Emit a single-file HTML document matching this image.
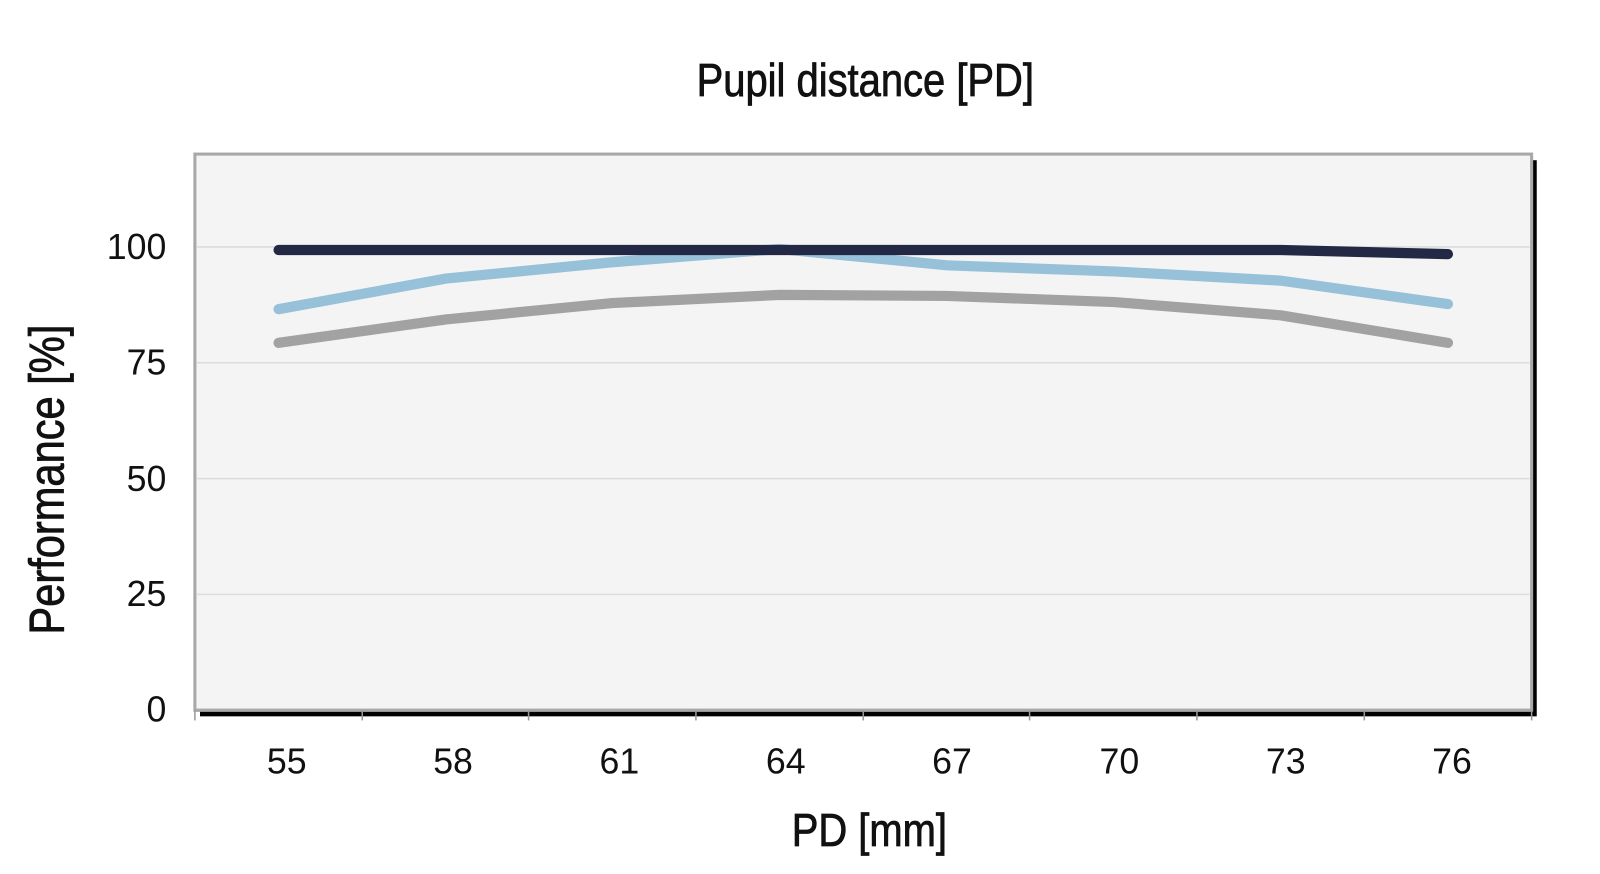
<!DOCTYPE html>
<html><head><meta charset="utf-8"><style>
html,body{margin:0;padding:0;background:#fff;}
svg{display:block}
text{font-family:"Liberation Sans",sans-serif;fill:#111;}
.t{font-size:35px;}
.h{stroke:#111;stroke-width:0.8;}
</style></head><body>
<svg width="1600" height="874" viewBox="0 0 1568 856.5" preserveAspectRatio="none">
<rect x="0" y="0" width="1568" height="856.5" fill="#fff"/>
<rect x="196" y="157" width="1310" height="545" fill="#000"/>
<rect x="191" y="151" width="1310" height="545" fill="#f4f4f4" stroke="#a8a8a8" stroke-width="3"/>
<g stroke="#dcdcdc" stroke-width="1.5">
<line x1="193" y1="242" x2="1499" y2="242"/>
<line x1="193" y1="355.5" x2="1499" y2="355.5"/>
<line x1="193" y1="469" x2="1499" y2="469"/>
<line x1="193" y1="582.5" x2="1499" y2="582.5"/>
</g>
<line x1="191" y1="696" x2="1501" y2="696" stroke="#a8a8a8" stroke-width="3"/>
<g stroke="#999" stroke-width="1.5">
<line x1="191" y1="696" x2="191" y2="706"/><line x1="355" y1="696" x2="355" y2="706"/>
<line x1="518" y1="696" x2="518" y2="706"/><line x1="682" y1="696" x2="682" y2="706"/>
<line x1="846" y1="696" x2="846" y2="706"/><line x1="1009" y1="696" x2="1009" y2="706"/>
<line x1="1173" y1="696" x2="1173" y2="706"/><line x1="1337" y1="696" x2="1337" y2="706"/>
<line x1="1501" y1="696" x2="1501" y2="706"/>
</g>
<g fill="none" stroke-width="10" stroke-linecap="round" stroke-linejoin="round">
<polyline stroke="#a3a2a3" points="273,336 437,313 600,297 764,289 928,290 1092,296 1255,309 1419,336"/>
<polyline stroke="#96c1d9" points="273,303 437,273 600,257 764,244 928,260 1092,266 1255,275 1419,298"/>
<polyline stroke="#232844" points="273,245 437,245 600,245 764,245 928,245 1092,245 1255,245 1419,249"/>
</g>
<g class="t" text-anchor="end">
<text x="163" y="254">100</text><text x="163" y="367">75</text>
<text x="163" y="481">50</text><text x="163" y="594">25</text><text x="163" y="707">0</text>
</g>
<g class="t" text-anchor="middle">
<text x="281" y="758">55</text><text x="444" y="758">58</text><text x="607" y="758">61</text>
<text x="770" y="758">64</text><text x="933" y="758">67</text><text x="1097" y="758">70</text>
<text x="1260" y="758">73</text><text x="1423" y="758">76</text>
</g>
<text class="h" transform="translate(848,94) scale(0.87,1)" font-size="45" text-anchor="middle">Pupil distance [PD]</text>
<text class="h" transform="translate(852,829) scale(0.87,1)" font-size="45" text-anchor="middle">PD [mm]</text>
<text class="h" transform="translate(62,470) rotate(-90) scale(0.85,1)" font-size="48" text-anchor="middle">Performance [%]</text>
</svg>
</body></html>
